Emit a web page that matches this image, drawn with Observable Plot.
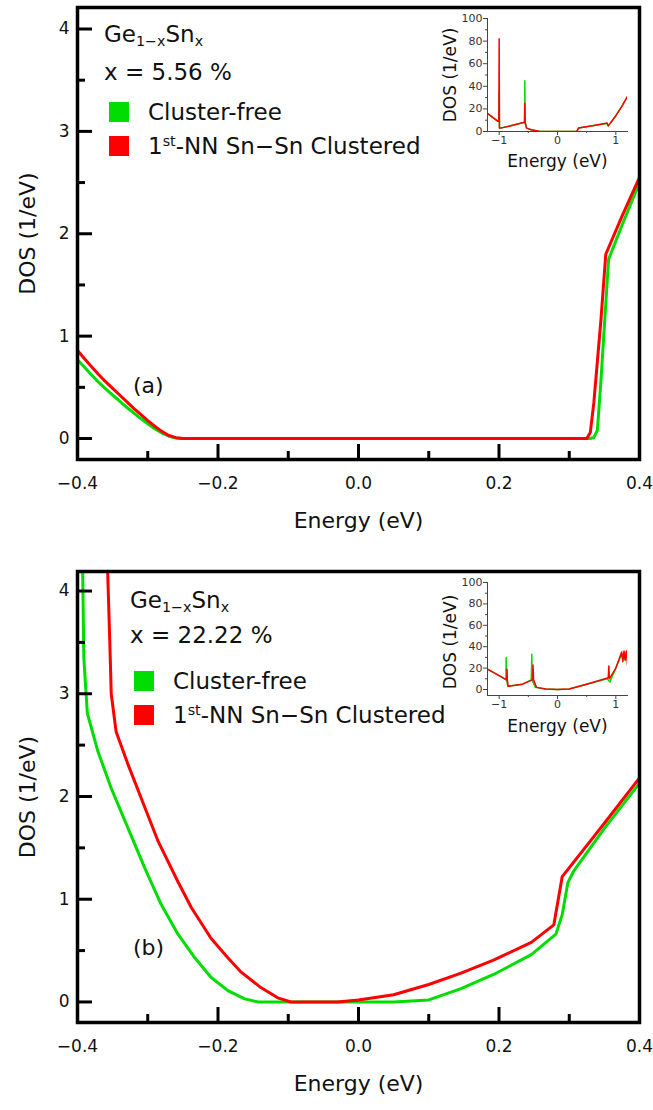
<!DOCTYPE html>
<html><head><meta charset="utf-8">
<script src="https://cdn.jsdelivr.net/npm/d3@7"></script>
<script src="https://cdn.jsdelivr.net/npm/@observablehq/plot@0.6"></script>
<style>
body{margin:0;background:#fff;font-family:"DejaVu Sans",sans-serif;}
#root{position:relative;width:653px;height:1110px;overflow:hidden;}
.abs{position:absolute;}
.lbl{position:absolute;white-space:nowrap;line-height:1;transform:translateY(-50%);color:#111;font-size:23px;}
.sw{position:absolute;width:20px;height:20px;}
sub,sup{font-size:0.62em;line-height:0;}
sub{vertical-align:-0.3em;}
sup{vertical-align:0.55em;}
</style></head><body><div id="root"></div>
<script>
// ---------- data ----------
const xMajor = [-0.4, -0.2, 0.0, 0.2, 0.4];
const xMinor = [-0.3, -0.1, 0.1, 0.3];
const yMajor = [0, 1, 2, 3, 4];
const yMinor = [0.5, 1.5, 2.5, 3.5];

// panel (a) x = 5.56 %
const aFreeE = [-0.4, -0.39, -0.38, -0.37, -0.36, -0.35, -0.34, -0.33, -0.32, -0.31, -0.3, -0.29, -0.28, -0.27, -0.26, -0.25, 0.0, 0.2, 0.33, 0.335, 0.34, 0.345, 0.35, 0.356, 0.375, 0.4];
const aFreeD = [0.77, 0.695, 0.62, 0.55, 0.485, 0.425, 0.365, 0.305, 0.25, 0.195, 0.145, 0.095, 0.055, 0.022, 0.005, 0, 0, 0, 0, 0.01, 0.08, 0.55, 1.1, 1.75, 2.08, 2.5];
const aClusE = [-0.4, -0.39, -0.38, -0.37, -0.36, -0.35, -0.34, -0.33, -0.32, -0.31, -0.3, -0.29, -0.28, -0.27, -0.26, -0.25, 0.0, 0.2, 0.325, 0.33, 0.335, 0.34, 0.345, 0.352, 0.375, 0.4];
const aClusD = [0.86, 0.78, 0.70, 0.625, 0.555, 0.49, 0.425, 0.36, 0.295, 0.235, 0.175, 0.12, 0.07, 0.03, 0.008, 0, 0, 0, 0, 0.06, 0.35, 0.75, 1.15, 1.8, 2.17, 2.55];

// panel (b) x = 22.22 %
const bFreeE = [-0.393, -0.391, -0.386, -0.371, -0.352, -0.328, -0.304, -0.281, -0.257, -0.233, -0.21, -0.186, -0.162, -0.143, 0.05, 0.1, 0.146, 0.193, 0.246, 0.281, 0.29, 0.298, 0.306, 0.35, 0.4];
const bFreeD = [4.4, 3.35, 2.81, 2.44, 2.08, 1.69, 1.30, 0.95, 0.66, 0.43, 0.24, 0.11, 0.03, 0, 0, 0.02, 0.13, 0.27, 0.46, 0.66, 0.85, 1.16, 1.27, 1.69, 2.13];
const bClusE = [-0.358, -0.354, -0.352, -0.345, -0.328, -0.304, -0.285, -0.257, -0.238, -0.21, -0.186, -0.167, -0.139, -0.115, -0.096, -0.03, 0.0, 0.05, 0.1, 0.146, 0.193, 0.246, 0.278, 0.29, 0.35, 0.4];
const bClusD = [4.4, 3.5, 3.0, 2.63, 2.31, 1.89, 1.56, 1.17, 0.92, 0.62, 0.43, 0.29, 0.14, 0.04, 0, 0, 0.02, 0.07, 0.17, 0.28, 0.41, 0.58, 0.75, 1.22, 1.74, 2.18];

// insets (wide energy range)
const insXMajor = [-1, 0, 1];
const insXMinor = [-0.5, 0.5];
const insYMajor = [0, 20, 40, 60, 80, 100];
const insYMinor = [10, 30, 50, 70, 90];

const iaFreeE = [-1.2, -1.1, -1.02, -1.005, -1.0, -0.995, -0.98, -0.8, -0.58, -0.565, -0.56, -0.555, -0.53, -0.45, -0.3, 0.33, 0.36, 0.6, 0.85, 0.87, 0.9, 1.0, 1.1, 1.2];
const iaFreeD = [16, 12, 9, 9, 35, 3, 3, 5, 8, 8, 45, 8, 3, 1.5, 0, 0, 3, 5, 7, 5, 7, 14, 22, 31];
const iaClusE = [-1.2, -1.1, -1.02, -1.005, -1.0, -0.995, -0.98, -0.8, -0.58, -0.565, -0.56, -0.555, -0.53, -0.45, -0.3, 0.33, 0.36, 0.6, 0.85, 0.87, 0.9, 1.0, 1.1, 1.2];
const iaClusD = [16, 12, 9, 9, 82, 3, 3, 5, 8, 8, 25, 8, 3, 1.5, 0, 0, 3, 5, 7.5, 5, 7, 14, 22, 31];

const ibFreeE = [-1.2, -1.0, -0.885, -0.88, -0.875, -0.85, -0.6, -0.45, -0.44, -0.435, -0.38, -0.2, 0, 0.2, 0.5, 0.85, 0.9, 0.92, 1.0, 1.1, 1.12, 1.14, 1.16, 1.18, 1.2];
const ibFreeD = [19, 13, 9, 30, 9, 3, 5, 9, 33, 9, 2, 0.5, 0, 0.5, 5, 10, 7, 10, 20, 33, 28, 35, 27, 34, 30];
const ibClusE = [-1.2, -1.0, -0.87, -0.865, -0.86, -0.845, -0.6, -0.43, -0.42, -0.41, -0.36, -0.2, 0, 0.2, 0.5, 0.87, 0.88, 0.89, 1.0, 1.1, 1.12, 1.14, 1.16, 1.18, 1.2];
const ibClusD = [19, 13, 9, 19, 9, 3, 5, 9, 23, 9, 2, 0.5, 0, 0.5, 5, 11, 22, 10, 20, 35, 26, 36, 28, 36, 23];

const GREEN = "#00dd00", RED = "#ff0000";
const zip = (E, D) => E.map((e, i) => ({e, d: D[i]}));

// ---------- main panel ----------
function mainPanel(free, clus, opts) {
  const W = 653, mL = 77, mR = 14, mT = opts.marginTop, mB = opts.marginBottom, H = opts.height;
  const plotH = H - mT - mB, plotW = W - mL - mR;
  return Plot.plot({
    width: W, height: H, marginLeft: mL, marginRight: mR, marginTop: mT, marginBottom: mB,
    style: {fontFamily: "DejaVu Sans", fontSize: "17px", color: "#111", background: "transparent", overflow: "visible"},
    x: {domain: [-0.4, 0.4], label: null},
    y: {domain: opts.ydomain, label: null},
    marks: [
      Plot.line(zip(free.E, free.D), {x: "e", y: "d", stroke: GREEN, strokeWidth: 3, strokeLinejoin: "round", clip: true}),
      Plot.line(zip(clus.E, clus.D), {x: "e", y: "d", stroke: RED, strokeWidth: 3, strokeLinejoin: "round", clip: true}),
      Plot.tickX(xMajor, {x: d => d, insetTop: plotH - 15, stroke: "#000", strokeWidth: 3}),
      Plot.tickX(xMinor, {x: d => d, insetTop: plotH - 8, stroke: "#000", strokeWidth: 3}),
      Plot.tickY(yMajor, {y: d => d, insetRight: plotW - 15, stroke: "#000", strokeWidth: 3}),
      Plot.tickY(yMinor, {y: d => d, insetRight: plotW - 8, stroke: "#000", strokeWidth: 3}),
      Plot.axisX(xMajor, {tickSize: 0, tickPadding: 17, tickFormat: d3.format(".1f"), label: null, fontSize: 17}),
      Plot.axisY(yMajor, {tickSize: 0, tickPadding: 8, tickFormat: d3.format("d"), label: null, fontSize: 17}),
      Plot.frame({stroke: "#000", strokeWidth: 3.5}),
      Plot.text(["Energy (eV)"], {text: d => d, frameAnchor: "bottom", dy: 68, fontSize: 22, fill: "#111"}),
      Plot.text(["DOS (1/eV)"], {text: d => d, frameAnchor: "left", textAnchor: "middle", dx: -50, rotate: -90, fontSize: 22, fill: "#111"})
    ]
  });
}

// ---------- inset ----------
function inset(free, clus, opts) {
  const W = 215, H = 175;
  return Plot.plot({
    width: W, height: H, marginLeft: 67, marginRight: 8, marginTop: opts.marginTop, marginBottom: opts.marginBottom,
    style: {fontFamily: "DejaVu Sans", fontSize: "11px", color: "#333", background: "transparent", overflow: "visible"},
    x: {domain: [-1.2, 1.2], label: null},
    y: {domain: opts.ydomain, label: null},
    marks: [
      Plot.line(zip(free.E, free.D), {x: "e", y: "d", stroke: GREEN, strokeWidth: 1.5, clip: true}),
      Plot.line(zip(clus.E, clus.D), {x: "e", y: "d", stroke: RED, strokeWidth: 1.5, clip: true}),
      Plot.axisX(insXMajor, {tickSize: 4, tickPadding: 1, stroke: "#444", tickFormat: d => d3.format("d")(d), label: null}),
      Plot.axisX(insXMinor, {tickSize: 2, stroke: "#444", text: null, label: null}),
      Plot.axisY(insYMajor, {tickSize: 4, tickPadding: 1, stroke: "#444", tickFormat: d3.format("d"), label: null}),
      Plot.axisY(insYMinor, {tickSize: 2, stroke: "#444", text: null, label: null}),
      Plot.frame({anchor: "left", stroke: "#444", strokeWidth: 1}),
      Plot.frame({anchor: "bottom", stroke: "#444", strokeWidth: 1}),
      Plot.text(["Energy (eV)"], {text: d => d, frameAnchor: "bottom", dy: opts.xlabDy, fontSize: 17, fill: "#111"}),
      Plot.text(["DOS (1/eV)"], {text: d => d, frameAnchor: "left", textAnchor: "middle", dx: -37, dy: opts.ylabDy, rotate: -90, fontSize: 17, fill: "#111"})
    ]
  });
}

const root = document.getElementById("root");
function place(el, left, top) {
  const d = document.createElement("div");
  d.className = "abs"; d.style.left = left + "px"; d.style.top = top + "px";
  d.appendChild(el); root.appendChild(d); return d;
}
function label(html, left, cy, size) {
  const d = document.createElement("div");
  d.className = "lbl"; d.innerHTML = html;
  d.style.left = left + "px"; d.style.top = cy + "px";
  if (size) d.style.fontSize = size + "px";
  root.appendChild(d);
}
function swatch(color, left, top) {
  const d = document.createElement("div");
  d.className = "sw"; d.style.background = color;
  d.style.left = left + "px"; d.style.top = top + "px";
  root.appendChild(d);
}

// panel (a)
place(mainPanel({E: aFreeE, D: aFreeD}, {E: aClusE, D: aClusD},
  {height: 555, marginTop: 7, marginBottom: 96, ydomain: [-0.205, 4.21]}), 0, 0);
place(inset({E: iaFreeE, D: iaFreeD}, {E: iaClusE, D: iaClusD},
  {marginTop: 18, marginBottom: 44, ydomain: [0, 100], xlabDy: 35, ylabDy: 0}), 420, 0);

// panel (b)
place(mainPanel({E: bFreeE, D: bFreeD}, {E: bClusE, D: bClusD},
  {height: 548, marginTop: 9, marginBottom: 88, ydomain: [-0.2, 4.19]}), 0, 562);
place(inset({E: ibFreeE, D: ibFreeD}, {E: ibClusE, D: ibClusD},
  {marginTop: 17, marginBottom: 45, ydomain: [-5.6, 100], xlabDy: 36, ylabDy: 3}), 420, 565);

// legends / annotations
const legends = [
  {gx: 104, gy: 34, xy: 72, comp: "x = 5.56 %", sx: 109, s1: 102, s2: 136, tx: 148, lab: "(a)", ly: 386},
  {gx: 130, gy: 600, xy: 635, comp: "x = 22.22 %", sx: 134, s1: 671, s2: 705, tx: 173, lab: "(b)", ly: 948}
];
for (const L of legends) {
  label("Ge<sub>1\u2212x</sub>Sn<sub>x</sub>", L.gx, L.gy);
  label(L.comp, L.gx, L.xy);
  swatch(GREEN, L.sx, L.s1);
  swatch(RED, L.sx, L.s2);
  label("Cluster-free", L.tx, L.s1 + 10);
  label("1<sup>st</sup>-NN Sn\u2212Sn Clustered", L.tx, L.s2 + 10);
  label(L.lab, 133, L.ly, 22);
}
</script>
</body></html>
